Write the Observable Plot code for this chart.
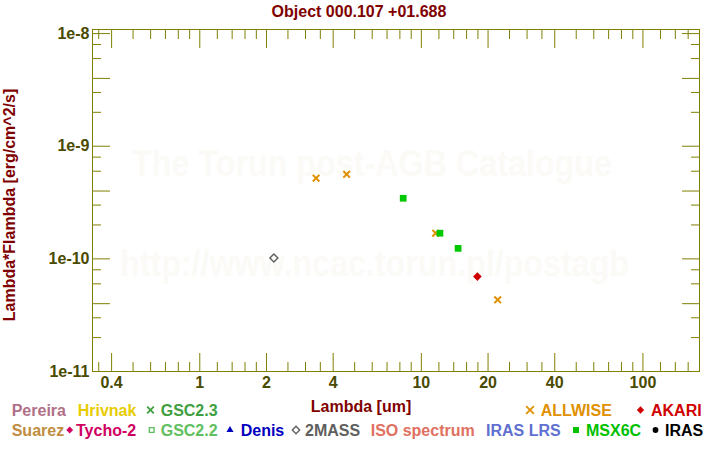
<!DOCTYPE html>
<html>
<head>
<meta charset="utf-8">
<script src="https://cdn.jsdelivr.net/npm/d3@7"></script>
<script src="https://cdn.jsdelivr.net/npm/@observablehq/plot@0.6"></script>
<style>
  html, body { margin: 0; padding: 0; background: #ffffff; }
  #chart svg { display: block; }
</style>
</head>
<body>
<div id="chart"></div>
<script>
// ---------- texts ----------
const title = "Object 000.107 +01.688";
const xLabel = "Lambda [um]";
const yLabel = "Lambda*Flambda [erg/cm^2/s]";
const watermark1 = "The Torun post-AGB Catalogue";
const watermark2 = "http://www.ncac.torun.pl/postagb";

// ---------- data (wavelength in um, lambda*F_lambda in erg/cm^2/s) ----------
const allwiseLambda = [3.35, 4.6, 11.6, 22.1];
const allwiseFlux   = [5.2e-10, 5.63e-10, 1.69e-10, 4.33e-11];
const msxLambda = [8.28, 12.13, 14.65];
const msxFlux   = [3.45e-10, 1.69e-10, 1.24e-10];
const akariLambda = [17.9];
const akariFlux   = [6.96e-11];
const twomassLambda = [2.16];
const twomassFlux   = [1.02e-10];

// ---------- ticks ----------
const xMajorTicks = [0.4, 1, 2, 4, 10, 20, 40, 100];
const xTickLabels = ["0.4", "1", "2", "4", "10", "20", "40", "100"];
const xMinorTicks = [0.35, 0.5, 0.6, 0.7, 0.8, 0.9, 1.2, 1.4, 1.6, 1.8, 2.5, 3, 3.5,
                     5, 6, 7, 8, 9, 12, 14, 16, 18, 25, 30, 35, 50, 60, 70, 80, 90, 120, 140, 160];
const yMajorTicks = [1e-8, 4e-9, 1e-9, 4e-10, 1e-10, 4e-11, 1e-11];
const yTickLabels = ["1e-8", "4e-9", "1e-9", "4e-10", "1e-10", "4e-11", "1e-11"];
const yMinorTicks = [8e-9, 6e-9, 3e-9, 2e-9, 8e-10, 6e-10, 3e-10, 2e-10, 8e-11, 6e-11, 3e-11, 2e-11];

// ---------- legend ----------
const legendLabels1 = ["Pereira", "Hrivnak", "GSC2.3", "ALLWISE", "AKARI"];
const legendLabels2 = ["Suarez", "Tycho-2", "GSC2.2", "Denis", "2MASS", "ISO spectrum", "IRAS LRS", "MSX6C", "IRAS"];

// ---------- styles / layout ----------
const FONT = "'Liberation Sans', Arial, Helvetica, sans-serif";
const OLIVE = "#808000";
const TICKTEXT = "#4a4a00";
const DARKRED = "#800000";

const legendStyle1 = [
  {color: "#b07088", sym: null, sx: 0, tx: 11.7},
  {color: "#e8cc00", sym: null, sx: 0, tx: 77.7},
  {color: "#40a040", sym: "times", size: 30, sx: 150.5, tx: 160.7},
  {color: "#e09000", sym: "times", size: 40, sx: 530, tx: 540.7},
  {color: "#d00000", sym: "diamond", size: 34, sx: 640.5, tx: 651}
];
const legendStyle2 = [
  {color: "#c08c40", sym: null, sx: 0, tx: 11.7},
  {color: "#d00060", sym: "diamond", size: 30, sx: 69.7, tx: 76},
  {color: "#60c060", sym: "squareOpen", size: 22, sx: 151.7, tx: 160.7},
  {color: "#0000c0", sym: "triangle", size: 22, sx: 230, tx: 240.7},
  {color: "#606060", sym: "diamondOpen", size: 34, sx: 296, tx: 305},
  {color: "#e07060", sym: null, sx: 0, tx: 370.7},
  {color: "#6070d0", sym: null, sx: 0, tx: 486},
  {color: "#00c000", sym: "square", size: 36, sx: 576, tx: 586},
  {color: "#000000", sym: "circle", size: 26, sx: 655.5, tx: 665}
];

// ---------- build tables ----------
const toRows = (lam, flux) => lam.map((x, i) => ({x, y: flux[i]}));
const allwise = toRows(allwiseLambda, allwiseFlux);
const msx = toRows(msxLambda, msxFlux);
const akari = toRows(akariLambda, akariFlux);
const twomass = toRows(twomassLambda, twomassFlux);

const fmtX = d => xTickLabels[xMajorTicks.indexOf(d)];
const fmtY = d => yTickLabels[yMajorTicks.indexOf(d)];

function tickMarks(axis, anchor, ticks, size) {
  const f = axis === "x" ? Plot.axisX : Plot.axisY;
  return f({anchor, ticks, tickSize: -size, fill: "none", stroke: OLIVE, strokeWidth: 1, label: null});
}

const plot = Plot.plot({
  width: 720,
  height: 450,
  marginLeft: 92,
  marginRight: 21,
  marginTop: 29,
  marginBottom: 79,
  style: {fontFamily: FONT, background: "#ffffff"},
  x: {type: "log", domain: [0.328, 180]},
  y: {type: "log", domain: [1e-11, 1.087e-8]},
  marks: [
    Plot.frame({stroke: OLIVE, strokeWidth: 1}),
    // inward ticks on all four sides
    tickMarks("x", "bottom", xMajorTicks, 18),
    tickMarks("x", "bottom", xMinorTicks, 9),
    tickMarks("x", "top", xMajorTicks, 18),
    tickMarks("x", "top", xMinorTicks, 9),
    tickMarks("y", "left", yMajorTicks, 18),
    tickMarks("y", "left", yMinorTicks, 9),
    tickMarks("y", "right", yMajorTicks, 18),
    tickMarks("y", "right", yMinorTicks, 9),
    // tick labels
    Plot.axisX({anchor: "bottom", ticks: xMajorTicks, tickSize: 0, tickPadding: 5, tickFormat: fmtX,
                fill: TICKTEXT, fontSize: 16, fontWeight: "bold", label: null}),
    Plot.axisY({anchor: "left", ticks: yMajorTicks, tickSize: 0, tickPadding: 3, tickFormat: fmtY,
                fill: TICKTEXT, fontSize: 16, fontWeight: "bold", label: null}),
    // data
    Plot.dot(twomass, {x: "x", y: "y", symbol: "diamond2", r: 3.6, fill: "#ffffff", stroke: "#606060", strokeWidth: 1.4}),
    Plot.dot(allwise, {x: "x", y: "y", symbol: "times", r: 3.1, stroke: "#e09000", strokeWidth: 2}),
    Plot.dot(msx, {x: "x", y: "y", symbol: "square", r: 3.8, fill: "#00c800", stroke: "none"}),
    Plot.dot(akari, {x: "x", y: "y", symbol: "diamond2", r: 3.9, fill: "#d00000", stroke: "none"})
  ]
});

document.getElementById("chart").appendChild(plot);
const svg = d3.select(plot);

// watermark beneath everything
const wm = svg.insert("g", ":first-child")
  .attr("font-family", FONT).attr("font-weight", "bold").attr("fill", "#fbfaf6").attr("text-anchor", "middle");
wm.append("text").attr("x", 372).attr("y", 176)
  .attr("font-size", 37).attr("textLength", 480).attr("lengthAdjust", "spacingAndGlyphs").text(watermark1);
wm.append("text").attr("x", 374.5).attr("y", 276)
  .attr("font-size", 37).attr("textLength", 509).attr("lengthAdjust", "spacingAndGlyphs").text(watermark2);

// title and axis labels
const deco = svg.append("g").attr("font-family", FONT).attr("font-weight", "bold").attr("font-size", 16);
deco.append("text").attr("x", 359).attr("y", 17).attr("text-anchor", "middle").attr("fill", DARKRED).text(title);
deco.append("text").attr("x", 361).attr("y", 411.5).attr("text-anchor", "middle").attr("fill", DARKRED).text(xLabel);
deco.append("text").attr("transform", "translate(14.5,205) rotate(-90)").attr("text-anchor", "middle")
  .attr("fill", DARKRED).text(yLabel);

// legend
const symMap = {
  times: d3.symbolTimes, diamond: d3.symbolDiamond2, diamondOpen: d3.symbolDiamond2,
  square: d3.symbolSquare, squareOpen: d3.symbolSquare, triangle: d3.symbolTriangle, circle: d3.symbolCircle
};
const legendG = deco.append("g").attr("text-anchor", "start");
function drawLegendRow(labels, styles, baseline, symY) {
  labels.forEach((lab, i) => {
    const s = styles[i];
    if (s.sym) {
      const open = s.sym.endsWith("Open");
      const isTimes = s.sym === "times";
      legendG.append("path")
        .attr("d", d3.symbol(symMap[s.sym], s.size)())
        .attr("transform", `translate(${s.sx},${symY})`)
        .attr("fill", (open || isTimes) ? "none" : s.color)
        .attr("stroke", (open || isTimes) ? s.color : "none")
        .attr("stroke-width", isTimes ? 1.8 : 1.4);
    }
    legendG.append("text").attr("x", s.tx).attr("y", baseline).attr("text-anchor", "start")
      .attr("fill", s.color).text(lab);
  });
}
drawLegendRow(legendLabels1, legendStyle1, 415.5, 410);
drawLegendRow(legendLabels2, legendStyle2, 436, 430);
</script>
</body>
</html>
